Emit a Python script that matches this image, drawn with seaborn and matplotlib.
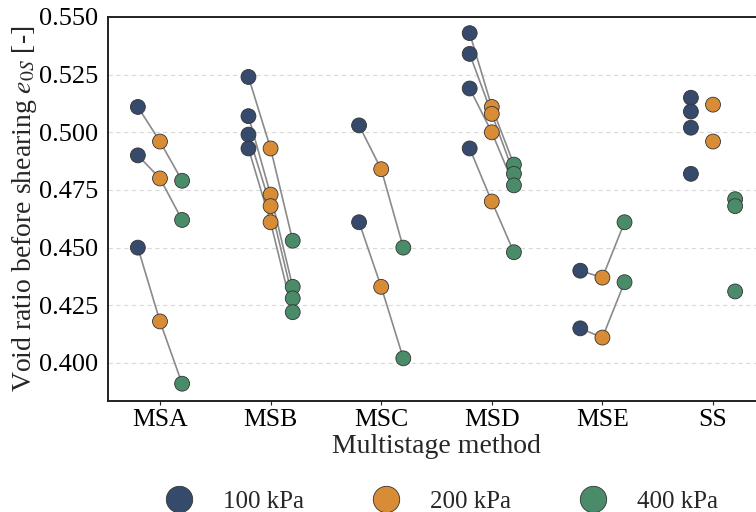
import numpy as np
import pandas as pd
import matplotlib
matplotlib.use("Agg")
import matplotlib.pyplot as plt
import seaborn as sns

# ---------------- data ----------------
methods = ["MSA", "MSB", "MSC", "MSD", "MSE", "SS"]
pressures = ["100 kPa", "200 kPa", "400 kPa"]

# one entry per test (a multistage test gives one value per stage)
test_method = ["MSA", "MSA", "MSA",
               "MSB", "MSB", "MSB", "MSB",
               "MSC", "MSC",
               "MSD", "MSD", "MSD", "MSD",
               "MSE", "MSE",
               "SS", "SS", "SS", "SS", "SS", "SS", "SS", "SS", "SS"]
e_100 = [0.511, 0.490, 0.450,
         0.524, 0.507, 0.499, 0.493,
         0.503, 0.461,
         0.543, 0.534, 0.519, 0.493,
         0.440, 0.415,
         0.515, 0.509, 0.502, 0.482, np.nan, np.nan, np.nan, np.nan, np.nan]
e_200 = [0.496, 0.480, 0.418,
         0.493, 0.473, 0.468, 0.461,
         0.484, 0.433,
         0.511, 0.508, 0.500, 0.470,
         0.437, 0.411,
         np.nan, np.nan, np.nan, np.nan, 0.512, 0.496, np.nan, np.nan, np.nan]
e_400 = [0.479, 0.462, 0.391,
         0.453, 0.433, 0.428, 0.422,
         0.450, 0.402,
         0.486, 0.482, 0.477, 0.448,
         0.461, 0.435,
         np.nan, np.nan, np.nan, np.nan, np.nan, np.nan, 0.471, 0.468, 0.431]

palette = ["#364a6c", "#d98c36", "#4a8b6a"]
dodge = [-0.2, 0.0, 0.2]

# ---------------- tidy table ----------------
rows = []
for t, m in enumerate(test_method):
    for p, vals in zip(pressures, (e_100, e_200, e_400)):
        v = vals[t]
        if not np.isnan(v):
            rows.append(dict(test=t, method=m, pressure=p, e=v))
df = pd.DataFrame(rows)
df["x"] = df["method"].map({m: i for i, m in enumerate(methods)}) + \
    df["pressure"].map(dict(zip(pressures, dodge)))

# ---------------- style ----------------
sns.set_theme(style="ticks")
plt.rcParams["font.family"] = ["Liberation Serif", "DejaVu Serif"]
plt.rcParams["mathtext.fontset"] = "stix"

fig = plt.figure(figsize=(7.56, 5.12), dpi=100)
ax = fig.add_axes([108 / 756, 1 - 401 / 512, (765 - 108) / 756, (401 - 17) / 512])

ax.yaxis.grid(True, linestyle=(0, (4, 3)), color="#d9d9d9", linewidth=0.8, zorder=0)
ax.set_axisbelow(True)

sns.lineplot(data=df, x="x", y="e", units="test", estimator=None,
             color="#8a8a8a", linewidth=1.2, ax=ax, zorder=2, legend=False)
sns.scatterplot(data=df, x="x", y="e", hue="pressure", hue_order=pressures,
                palette=palette, s=115, edgecolor="#333333", linewidth=0.6,
                ax=ax, zorder=3, legend=True)

ax.set_xlim(-0.47, 5.47)
ax.set_ylim(0.3835, 0.550)
ax.set_xticks(range(len(methods)))
ax.set_xticklabels(methods)
ax.set_yticks([0.400, 0.425, 0.450, 0.475, 0.500, 0.525, 0.550])
ax.yaxis.set_major_formatter(matplotlib.ticker.FormatStrFormatter("%.3f"))
ax.tick_params(axis="x", labelsize=18.5, length=3, width=0.8, colors="#222222",
               labelcolor="black", pad=3)
ax.tick_params(axis="y", labelsize=19, length=0, labelcolor="black", pad=7)
ax.set_xlabel("Multistage method", fontsize=20, labelpad=2)
ax.set_ylabel("Void ratio before shearing $e_{0S}$ [-]", fontsize=20, labelpad=0)

for side in ["left", "bottom", "top", "right"]:
    ax.spines[side].set_color("#222222")
    ax.spines[side].set_linewidth(1.4)

handles, labels = ax.get_legend_handles_labels()
ax.get_legend().remove()
for h in handles:
    h.set_markersize(19)
    h.set_markeredgewidth(0.6)
fig.legend(handles, labels, loc="center", bbox_to_anchor=(436 / 756, 0.02),
           ncol=3, frameon=False, fontsize=18, columnspacing=2.3,
           handletextpad=0.75, scatterpoints=1)

fig.savefig("out.png", dpi=100)
